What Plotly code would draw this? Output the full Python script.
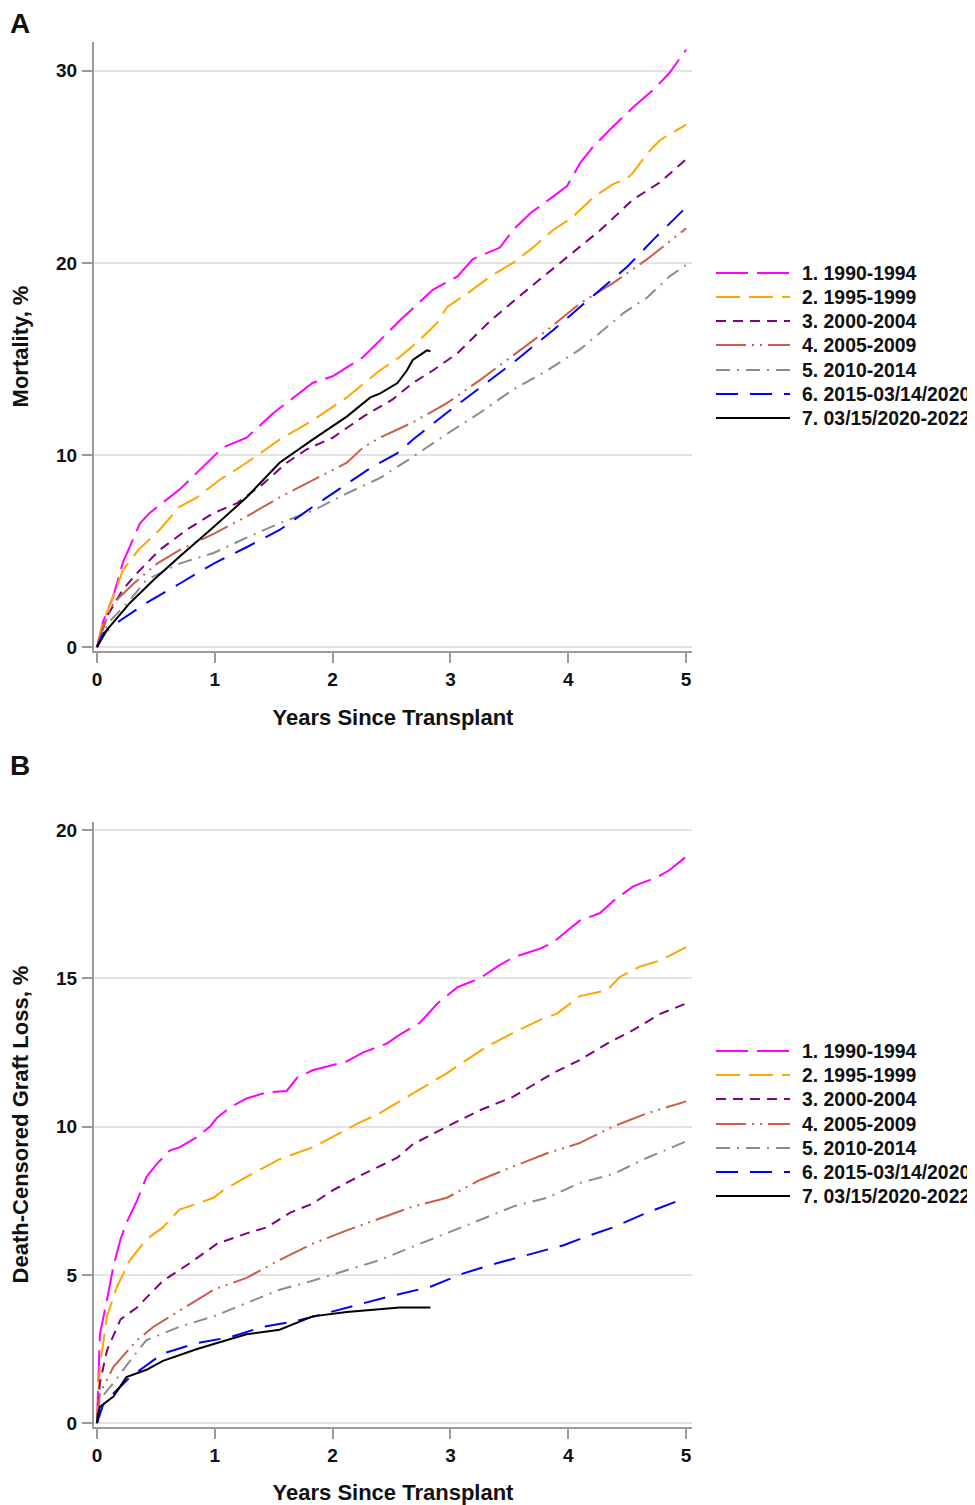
import plotly.graph_objects as go

# ---------------- data (years since transplant, %) ----------------
names = ["1. 1990-1994", "2. 1995-1999", "3. 2000-2004", "4. 2005-2009",
         "5. 2010-2014", "6. 2015-03/14/2020", "7. 03/15/2020-2022"]
colors = ["#FF00FF", "#FFA500", "#800080", "#CD5C4C", "#8C8C8C", "#0000FF", "#000000"]
dashes = ["32px,9px", "24px,9px", "10px,7px", "30px,6px,2px,6px,2px,6px",
          "14px,7px,2px,7px", "22px,12px", "solid"]

# Panel A: Mortality, %
a1_x = [0, 0.05, 0.136, 0.22, 0.365, 0.45, 0.70, 0.985, 1.07, 1.27, 1.5, 1.83, 2.0, 2.26, 2.46, 2.57,
        2.85, 3.06, 3.19, 3.42, 3.53, 3.68, 3.87, 3.99, 4.10, 4.21, 4.38, 4.55, 4.72, 4.86, 5.0]
a1_y = [0, 1.3, 2.6, 4.4, 6.45, 7.0, 8.2, 9.9, 10.4, 10.9, 12.2, 13.75, 14.1, 15.1, 16.3, 17.0,
        18.6, 19.3, 20.2, 20.8, 21.7, 22.6, 23.45, 24.0, 25.2, 26.05, 27.1, 28.1, 29.0, 29.9, 31.1]
a2_x = [0, 0.05, 0.22, 0.35, 0.53, 0.70, 0.85, 1.04, 1.27, 1.55, 1.83, 2.12, 2.40, 2.57, 2.74, 2.89,
        2.97, 3.14, 3.34, 3.53, 3.68, 3.87, 4.04, 4.21, 4.38, 4.50, 4.55, 4.67, 4.78, 4.89, 5.0]
a2_y = [0, 1.25, 4.0, 5.05, 6.1, 7.3, 7.8, 8.7, 9.6, 10.8, 11.8, 13.0, 14.4, 15.1, 16.0, 16.9,
        17.7, 18.4, 19.3, 20.0, 20.7, 21.7, 22.4, 23.4, 24.1, 24.4, 24.7, 25.7, 26.4, 26.8, 27.2]
a3_x = [0, 0.085, 0.22, 0.34, 0.53, 0.76, 0.98, 1.19, 1.41, 1.61, 1.78, 2.0, 2.26, 2.51, 2.68, 2.85,
        3.06, 3.34, 3.68, 3.99, 4.27, 4.55, 4.78, 5.0]
a3_y = [0, 1.6, 3.0, 3.85, 5.05, 6.1, 6.95, 7.5, 8.5, 9.6, 10.3, 10.9, 12.0, 12.9, 13.75, 14.4,
        15.3, 17.0, 18.75, 20.3, 21.7, 23.3, 24.2, 25.4]
a4_x = [0, 0.05, 0.14, 0.31, 0.51, 0.70, 0.99, 1.27, 1.55, 1.83, 2.12, 2.26, 2.40, 2.68, 2.97, 3.25,
        3.53, 3.82, 4.10, 4.38, 4.67, 4.84, 5.0]
a4_y = [0, 1.0, 2.3, 3.3, 4.35, 5.05, 5.9, 6.8, 7.8, 8.7, 9.6, 10.4, 10.9, 11.7, 12.7, 13.9,
        15.2, 16.5, 17.9, 18.95, 20.2, 21.0, 21.8]
a5_x = [0, 0.1, 0.28, 0.42, 0.70, 0.99, 1.27, 1.55, 1.83, 2.12, 2.40, 2.68, 2.97, 3.25, 3.53, 3.82,
        4.10, 4.27, 4.47, 4.67, 4.86, 5.0]
a5_y = [0, 1.3, 2.45, 3.5, 4.35, 4.9, 5.7, 6.45, 7.1, 8.0, 8.8, 9.9, 11.1, 12.2, 13.4, 14.4,
        15.5, 16.35, 17.4, 18.2, 19.3, 19.9]
a6_x = [0, 0.05, 0.2, 0.42, 0.70, 0.99, 1.27, 1.55, 1.83, 2.12, 2.34, 2.55, 2.68, 2.97, 3.25, 3.53,
        3.87, 4.10, 4.33, 4.50, 4.72, 4.89, 5.0]
a6_y = [0, 0.7, 1.4, 2.3, 3.3, 4.35, 5.2, 6.1, 7.3, 8.5, 9.4, 10.1, 10.8, 12.2, 13.5, 14.8,
        16.5, 17.7, 18.95, 19.8, 21.2, 22.2, 22.9]
a7_x = [0, 0.085, 0.28, 0.48, 0.70, 0.99, 1.27, 1.55, 1.83, 2.12, 2.32, 2.40, 2.55, 2.63, 2.68, 2.80, 2.83]
a7_y = [0, 0.9, 2.3, 3.5, 4.7, 6.25, 7.8, 9.6, 10.8, 12.0, 13.0, 13.2, 13.75, 14.4, 14.95, 15.45, 15.4]

# Panel B: Death-censored graft loss, %
b1_x = [0, 0.025, 0.085, 0.14, 0.2, 0.25, 0.34, 0.42, 0.51, 0.62, 0.70, 0.85, 0.96, 1.02, 1.13, 1.27,
        1.44, 1.61, 1.70, 1.83, 2.12, 2.26, 2.46, 2.57, 2.74, 2.89, 3.06, 3.25, 3.40, 3.53, 3.76, 3.87,
        3.99, 4.10, 4.27, 4.38, 4.55, 4.75, 4.86, 5.0]
b1_y = [0, 3.0, 4.15, 5.3, 6.2, 6.75, 7.5, 8.3, 8.75, 9.2, 9.3, 9.65, 10.0, 10.3, 10.65, 10.95,
        11.15, 11.2, 11.65, 11.9, 12.2, 12.5, 12.8, 13.1, 13.5, 14.15, 14.7, 15.0, 15.4, 15.7, 16.0, 16.2,
        16.6, 16.95, 17.2, 17.6, 18.1, 18.4, 18.65, 19.1]
b2_x = [0, 0.025, 0.085, 0.17, 0.28, 0.42, 0.56, 0.70, 0.85, 0.99, 1.07, 1.27, 1.55, 1.83, 2.0, 2.21,
        2.40, 2.63, 2.83, 2.97, 3.08, 3.31, 3.53, 3.76, 3.9, 4.10, 4.33, 4.44, 4.61, 4.78, 5.0]
b2_y = [0, 1.9, 3.6, 4.6, 5.5, 6.2, 6.6, 7.2, 7.4, 7.6, 7.85, 8.3, 8.9, 9.3, 9.65, 10.1,
        10.45, 11.0, 11.45, 11.8, 12.1, 12.7, 13.15, 13.6, 13.8, 14.4, 14.6, 15.05, 15.4, 15.6, 16.05]
b3_x = [0, 0.025, 0.085, 0.20, 0.34, 0.56, 0.79, 1.02, 1.27, 1.44, 1.64, 1.83, 2.0, 2.26, 2.55, 2.68,
        2.97, 3.25, 3.53, 3.87, 4.10, 4.33, 4.55, 4.78, 5.0]
b3_y = [0, 1.35, 2.45, 3.5, 3.9, 4.8, 5.4, 6.05, 6.4, 6.6, 7.1, 7.4, 7.85, 8.4, 8.95, 9.4,
        10.0, 10.55, 11.0, 11.8, 12.25, 12.8, 13.25, 13.8, 14.15]
b4_x = [0, 0.025, 0.14, 0.34, 0.48, 0.70, 0.99, 1.27, 1.55, 1.83, 2.12, 2.40, 2.68, 2.97, 3.25, 3.53,
        3.82, 4.10, 4.38, 4.67, 5.0]
b4_y = [0, 1.0, 1.9, 2.8, 3.25, 3.8, 4.5, 4.9, 5.5, 6.05, 6.5, 6.9, 7.3, 7.6, 8.2, 8.65,
        9.1, 9.45, 10.0, 10.45, 10.85]
b5_x = [0, 0.025, 0.14, 0.28, 0.42, 0.70, 0.99, 1.27, 1.55, 1.83, 2.12, 2.40, 2.68, 2.97, 3.25, 3.53,
        3.82, 4.10, 4.38, 4.67, 5.0]
b5_y = [0, 0.8, 1.35, 2.1, 2.8, 3.25, 3.6, 4.05, 4.5, 4.8, 5.15, 5.5, 5.95, 6.4, 6.85, 7.3,
        7.6, 8.1, 8.4, 8.95, 9.5]
b6_x = [0, 0.05, 0.14, 0.28, 0.56, 0.85, 1.13, 1.41, 1.70, 1.98, 2.26, 2.46, 2.83, 3.11, 3.40, 3.68,
        3.96, 4.16, 4.38, 4.67, 5.0]
b6_y = [0, 0.6, 1.0, 1.55, 2.35, 2.7, 2.9, 3.25, 3.45, 3.75, 4.05, 4.25, 4.6, 5.05, 5.4, 5.7,
        6.0, 6.3, 6.6, 7.1, 7.6]
b7_x = [0, 0.01, 0.025, 0.14, 0.25, 0.42, 0.56, 0.85, 1.02, 1.27, 1.55, 1.83, 2.12, 2.40, 2.57, 2.83]
b7_y = [0, 0.3, 0.55, 0.9, 1.55, 1.8, 2.1, 2.5, 2.7, 3.0, 3.15, 3.6, 3.75, 3.85, 3.9, 3.9]

x_ticks = [0, 1, 2, 3, 4, 5]
a_yticks = [0, 10, 20, 30]
b_yticks = [0, 5, 10, 15, 20]

panel_a = [(a1_x, a1_y), (a2_x, a2_y), (a3_x, a3_y), (a4_x, a4_y), (a5_x, a5_y), (a6_x, a6_y), (a7_x, a7_y)]
panel_b = [(b1_x, b1_y), (b2_x, b2_y), (b3_x, b3_y), (b4_x, b4_y), (b5_x, b5_y), (b6_x, b6_y), (b7_x, b7_y)]

# ---------------- figure ----------------
OFF = 8                      # page body margin
W, H = 975 - OFF, 1505 - OFF
FONT = "Liberation Sans, Arial, Helvetica, sans-serif"
INK = "#111111"
fig = go.Figure()

for i, (xs, ys) in enumerate(panel_a):
    fig.add_trace(go.Scatter(x=xs, y=ys, mode="lines", name=names[i], showlegend=False,
                             line=dict(color=colors[i], width=2, dash=dashes[i]),
                             xaxis="x", yaxis="y"))
for i, (xs, ys) in enumerate(panel_b):
    fig.add_trace(go.Scatter(x=xs, y=ys, mode="lines", name=names[i], showlegend=False,
                             line=dict(color=colors[i], width=2, dash=dashes[i]),
                             xaxis="x2", yaxis="y2"))


def px_x(p):
    return (p - OFF) / W


def px_y(p):
    return 1 - (p - OFF) / H


axis_common = dict(
    showline=True, linecolor="#9A9A9A", linewidth=2,
    ticks="outside", ticklen=10, tickwidth=2, tickcolor="#9A9A9A",
    tickfont=dict(family=FONT, size=19, color=INK, weight="bold"),
    mirror=False,
)
title_font = dict(family=FONT, size=22, color=INK, weight="bold")

fig.update_layout(
    width=W, height=H,
    margin=dict(l=0, r=0, t=0, b=0, autoexpand=False),
    paper_bgcolor="white", plot_bgcolor="white",
    showlegend=False,
    xaxis=dict(domain=[px_x(94), px_x(692)], range=[-0.025, 5.05], tickvals=x_ticks,
               showgrid=False, zeroline=False, anchor="y", ticklabelstandoff=0,
               title=dict(text="Years Since Transplant", standoff=21, font=title_font),
               **axis_common),
    yaxis=dict(domain=[px_y(651), px_y(42)], range=[-0.2, 31.5], tickvals=a_yticks,
               showgrid=True, gridcolor="#E3E3E3", gridwidth=2, ticklabelstandoff=1,
               zeroline=True, zerolinecolor="#E3E3E3", zerolinewidth=2, anchor="x",
               title=dict(text="Mortality, %", standoff=26, font=title_font),
               **axis_common),
    xaxis2=dict(domain=[px_x(94), px_x(692)], range=[-0.025, 5.05], tickvals=x_ticks,
                showgrid=False, zeroline=False, anchor="y2", ticklabelstandoff=0,
                title=dict(text="Years Since Transplant", standoff=23, font=title_font),
                **axis_common),
    yaxis2=dict(domain=[px_y(1427), px_y(822)], range=[-0.13, 20.27], tickvals=b_yticks,
                showgrid=True, gridcolor="#E3E3E3", gridwidth=2, ticklabelstandoff=1,
                zeroline=True, zerolinecolor="#E3E3E3", zerolinewidth=2, anchor="x2",
                title=dict(text="Death-Censored Graft Loss, %", standoff=26, font=title_font),
                **axis_common),
)

# legends (key lines + labels), one per panel
legend_rows_a = [273, 297, 321, 345, 370, 394, 418]
legend_rows_b = [1051, 1075, 1099, 1124, 1148, 1172, 1196]
for rows in (legend_rows_a, legend_rows_b):
    for i, ypix in enumerate(rows):
        fig.add_shape(type="line", xref="paper", yref="paper",
                      x0=px_x(716), x1=px_x(790), y0=px_y(ypix), y1=px_y(ypix),
                      line=dict(color=colors[i], width=2, dash=dashes[i]))
        fig.add_annotation(text=names[i], xref="paper", yref="paper",
                           x=px_x(800), y=px_y(ypix), xanchor="left", yanchor="middle",
                           showarrow=False, font=dict(family=FONT, size=19.4, color=INK, weight="bold"))

for label, ypix in [("A", 23), ("B", 765)]:
    fig.add_annotation(text=label, xref="paper", yref="paper", x=px_x(8), y=px_y(ypix),
                       xanchor="left", yanchor="middle", showarrow=False,
                       font=dict(family=FONT, size=28, color=INK, weight="bold"))

fig.write_html("out.html")
